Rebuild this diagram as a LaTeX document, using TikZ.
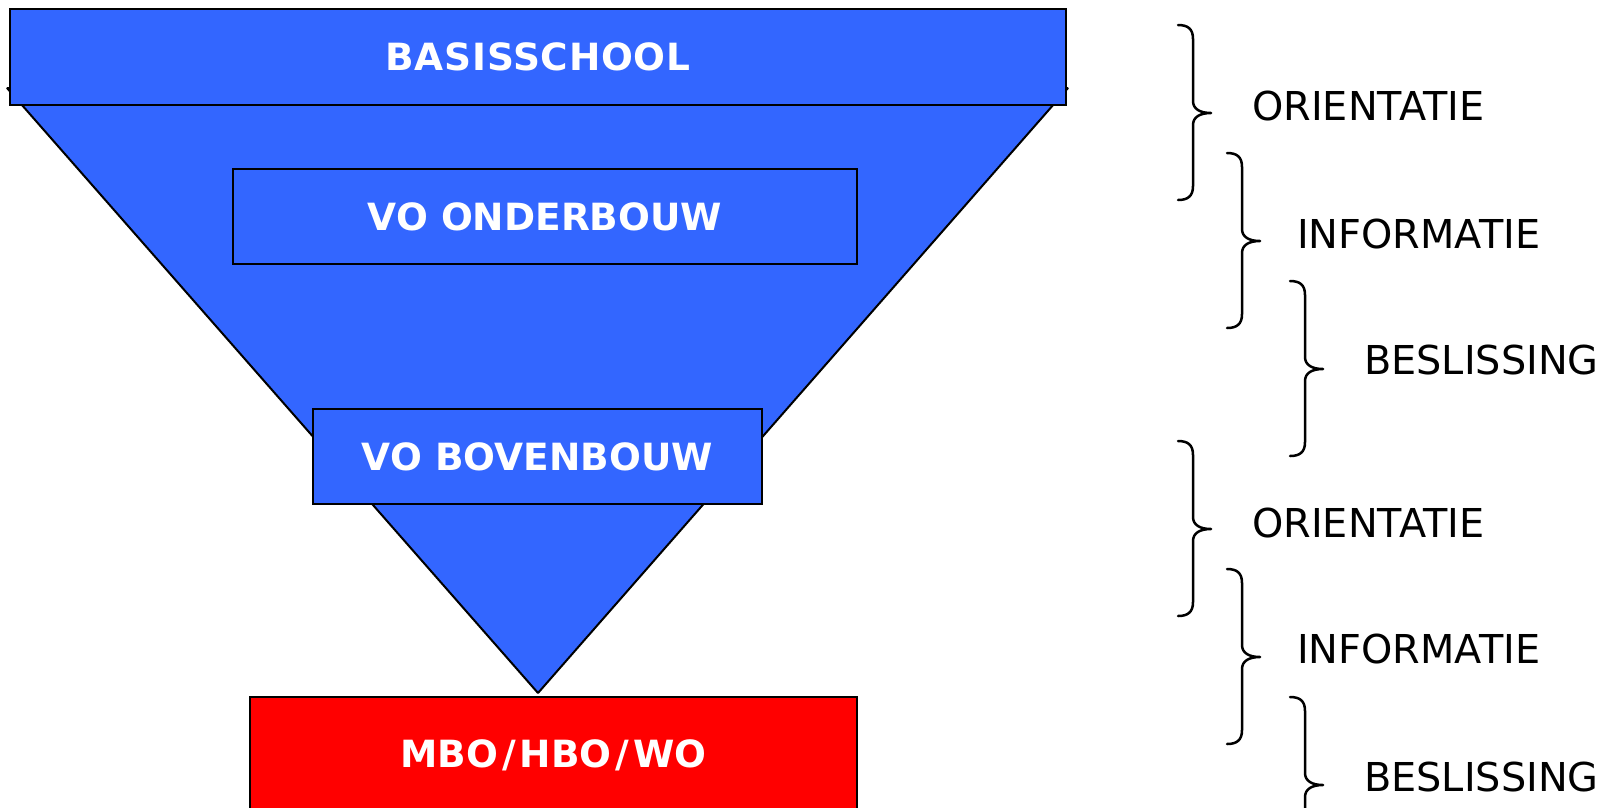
\documentclass[tikz,border=0pt]{standalone}
\usepackage{fontspec}
\setmainfont{DejaVu Sans}
\definecolor{funnelblue}{RGB}{51,102,255}
\definecolor{goalred}{RGB}{255,0,0}
\tikzset{
  stage/.style={draw=black, line width=2pt, fill=funnelblue, text=white,
    font=\fontsize{37.5}{44}\selectfont\bfseries, inner sep=0pt},
  goal/.style={stage, fill=goalred},
  phase/.style={font=\fontsize{39.8}{46}\selectfont, text=black, inner sep=0pt, anchor=base west},
  bracket/.style={draw=black, line width=2.5pt, line cap=round, line join=round}
}
\newcommand{\phasebrace}[2]{% #1 = top y, #2 = x of ends
  \draw[bracket] (#2,#1) .. controls (#2+10,#1) and (#2+15,#1+4) .. (#2+15,#1+14)
    -- (#2+15,#1+76) .. controls (#2+15,#1+84) and (#2+22,#1+88) .. (#2+33,#1+88)
    .. controls (#2+22,#1+88) and (#2+15,#1+92) .. (#2+15,#1+100)
    -- (#2+15,#1+161) .. controls (#2+15,#1+171) and (#2+10,#1+175) .. (#2+0,#1+175);
}
\newcommand{\slsh}{\hspace{4pt}/\hspace{4pt}}
\begin{document}
\begin{tikzpicture}[x=1pt,y=-1pt]
\useasboundingbox (0,0) rectangle (1606,807);
% funnel
\coordinate (tl) at (7,88);
\coordinate (tr) at (1068,88);
\coordinate (apex) at (538,693);
\draw[line width=2pt, line join=bevel, fill=funnelblue] (tl) -- (tr) -- (apex) -- cycle;
% stage boxes
\node[stage, minimum width=1056pt, minimum height=96pt] (basis) at (538,57) {\addfontfeature{LetterSpace=2}BASISSCHOOL};
\node[stage, minimum width=624pt, minimum height=95pt] (onder) at (545,216.5) {VO ONDERBOUW};
\node[stage, minimum width=449pt, minimum height=95pt] (boven) at (537.5,456.5) {VO BOVENBOUW};
\node[goal, minimum width=607pt, minimum height=116pt] (mbo) at (553.5,755) {MBO\slsh HBO\slsh WO};
% braces
\phasebrace{25}{1178}
\phasebrace{153}{1227}
\phasebrace{281}{1290}
\phasebrace{441}{1178}
\phasebrace{569}{1227}
\phasebrace{697}{1290}
% phase labels
\node[phase] (or1) at (1252,120) {ORIENTATIE};
\node[phase] (in1) at (1297,248) {INFORMATIE};
\node[phase] (be1) at (1364,374) {BESLISSING};
\node[phase] (or2) at (1252,537) {ORIENTATIE};
\node[phase] (in2) at (1297,663) {INFORMATIE};
\node[phase] (be2) at (1364,791) {BESLISSING};
\end{tikzpicture}
\end{document}
